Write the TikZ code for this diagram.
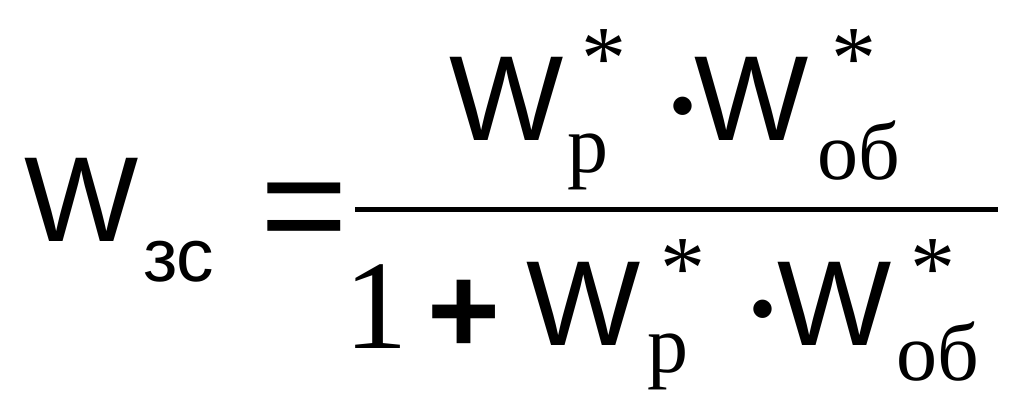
\documentclass[tikz,border=0pt]{standalone}
\usepackage{fontspec}
\usepackage{tikz}
\newfontfamily\wfont{Liberation Sans}
\newfontfamily\serfont{Liberation Serif}
\newfontfamily\symfont{DejaVu Sans}
\tikzstyle{bigw} = [inner sep=0pt, outer sep=0pt, anchor=north west, font=\wfont\fontsize{121}{121}\selectfont]
\tikzstyle{subsans} = [inner sep=0pt, outer sep=0pt, anchor=base west, font=\wfont\fontsize{75}{75}\selectfont]
\tikzstyle{subser} = [inner sep=0pt, outer sep=0pt, anchor=base west, font=\serfont\fontsize{82}{82}\selectfont]
\tikzstyle{star} = [inner sep=0pt, outer sep=0pt, anchor=north west, font=\serfont\fontsize{90}{90}\selectfont]
\tikzstyle{dotop} = [inner sep=0pt, outer sep=0pt, anchor=north, font=\symfont\fontsize{24}{24}\selectfont]
\tikzstyle{fracbar} = [line width=5pt]

\begin{document}
\begin{tikzpicture}[x=1pt,y=-1pt]
	\useasboundingbox (0,0) rectangle (1024,419);
	% left side
	\node[bigw] (w_zs) at (24,158) {W};
	\node[subsans] (sub_zs) at (143,282) {зс};
	\node[inner sep=0pt, anchor=north west, font=\wfont\fontsize{150}{150}\selectfont] (eq) at (260,183) {=};
	
	% numerator
	\node[bigw] (num_wp) at (449,57) {W};
	\node[star] (num_star_p) at (581,30) {*};
	\node[subser, anchor=south west] (num_sub_p) at (567,190) {р};
	\node[dotop] (num_dot) at (682.5,97.5) {●};
	\node[bigw] (num_wob) at (694,57) {W};
	\node[star] (num_star_ob) at (831,30) {*};
	\node[subser] (num_sub_ob) at (817,180) {об};
	
	% fraction bar
	\coordinate (bar_l) at (355,210);
	\coordinate (bar_r) at (998,210);
	\draw[fracbar] (bar_l) -- (bar_r);
	
	% denominator
	\node[inner sep=0pt, anchor=base west, font=\serfont\fontsize{127}{127}\selectfont] (den_one) at (344,348) {1};
	\node[inner sep=0pt, anchor=north west, font=\wfont\bfseries\fontsize{125}{125}\selectfont] (den_plus) at (427,280) {+};
	\node[bigw] (den_wp) at (526,262) {W};
	\node[star] (den_star_p) at (660,240) {*};
	\node[subser, anchor=south west] (den_sub_p) at (647,390) {р};
	\node[dotop] (den_dot) at (762.5,300) {●};
	\node[bigw] (den_wob) at (777,262) {W};
	\node[star] (den_star_ob) at (910,240) {*};
	\node[subser] (den_sub_ob) at (896,380) {об};
\end{tikzpicture}
\end{document}
